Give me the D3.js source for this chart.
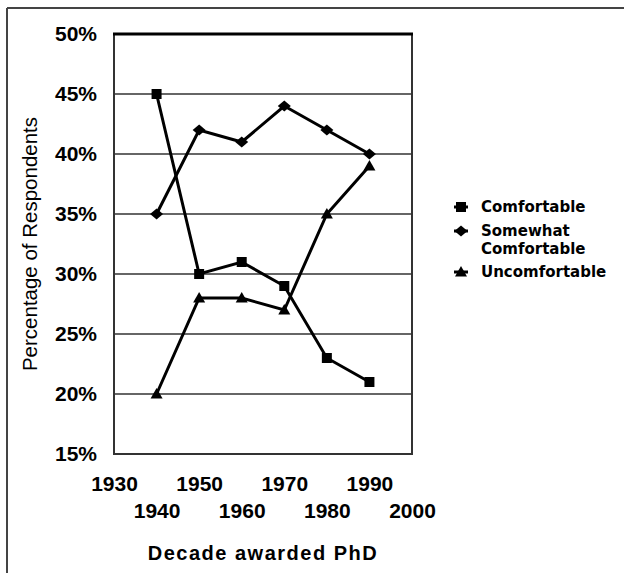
<!DOCTYPE html>
<html><head><meta charset="utf-8">
<script src="https://cdn.jsdelivr.net/npm/d3@7"></script>
<style>body{margin:0;background:#fff}svg{display:block}</style>
</head><body>
<svg id="c" width="624" height="573"></svg>
<script>
const years = [1940, 1950, 1960, 1970, 1980, 1990];
const comfortable = [45, 30, 31, 29, 23, 21];
const somewhat = [35, 42, 41, 44, 42, 40];
const uncomfortable = [20, 28, 28, 27, 35, 39];
const xTicks = [1930, 1940, 1950, 1960, 1970, 1980, 1990, 2000];
const yTicks = [15, 20, 25, 30, 35, 40, 45, 50];
const seriesNames = ["Comfortable", "Somewhat Comfortable", "Uncomfortable"];

const svg = d3.select("#c");
const L = 114, R = 412, T = 34, B = 454;
const x = d3.scaleLinear().domain([1930, 2000]).range([L, R]);
const y = d3.scaleLinear().domain([15, 50]).range([B, T]);
const font = "'Liberation Sans', Arial, sans-serif";

// outer frame
svg.append("line").attr("x1", 7).attr("x2", 7).attr("y1", 8).attr("y2", 573).attr("stroke", "#444").attr("stroke-width", 2);
svg.append("line").attr("x1", 7).attr("x2", 624).attr("y1", 8).attr("y2", 8).attr("stroke", "#444").attr("stroke-width", 2);

// gridlines
svg.append("g").selectAll("line").data(yTicks.filter(d => d > 15 && d < 50)).join("line")
  .attr("x1", L).attr("x2", R).attr("y1", d => y(d)).attr("y2", d => y(d))
  .attr("stroke", "#333").attr("stroke-width", 1.5);
// plot border
svg.append("path").attr("d", `M${L},${T}V${B}H${R}V${T}`).attr("fill", "none").attr("stroke", "#333").attr("stroke-width", 2);
svg.append("line").attr("x1", L - 1).attr("x2", R + 1).attr("y1", y(50)).attr("y2", y(50)).attr("stroke", "#000").attr("stroke-width", 3);

// y axis labels
const yAxis = d3.axisLeft(y).tickValues(yTicks).tickFormat(d => d + "%").tickSize(0).tickPadding(17);
const gy = svg.append("g").attr("transform", `translate(${L},0)`).call(yAxis);
gy.select(".domain").remove();
gy.selectAll("text").attr("font-family", font).attr("font-weight", "bold").attr("font-size", 21).attr("fill", "#000");

// x axis labels (staggered)
const xAxis = d3.axisBottom(x).tickValues(xTicks).tickFormat(d => d).tickSize(0);
const gx = svg.append("g").attr("transform", `translate(0,${B})`).call(xAxis);
gx.select(".domain").remove();
gx.selectAll("text").attr("font-family", font).attr("font-weight", "bold").attr("font-size", 21).attr("fill", "#000")
  .attr("dy", null).attr("y", (d, i) => i % 2 === 0 ? 37 : 64);

// titles
svg.append("text").attr("x", (L + R) / 2).attr("y", 560).attr("text-anchor", "middle")
  .attr("font-family", font).attr("font-weight", "bold").attr("font-size", 20).attr("letter-spacing", 1.5)
  .text("Decade awarded PhD");
svg.append("text").attr("transform", `translate(37,${(T + B) / 2}) rotate(-90)`).attr("text-anchor", "middle")
  .attr("font-family", font).attr("font-size", 20.5)
  .text("Percentage of Respondents");

// series
const data = [comfortable, somewhat, uncomfortable];
const shapes = [
  "M-5,-5H5V5H-5Z",
  "M0,-5.5L6.5,0L0,5.5L-6.5,0Z",
  "M0,-6L6,4.5H-6Z"
];
const line = d3.line().x((d, i) => x(years[i])).y(d => y(d));
data.forEach((s, k) => {
  svg.append("path").datum(s).attr("d", line).attr("fill", "none").attr("stroke", "#000").attr("stroke-width", 3);
  svg.append("g").selectAll("path").data(s).join("path")
    .attr("transform", (d, i) => `translate(${x(years[i])},${y(d)})`)
    .attr("d", shapes[k])
    .attr("fill", "#000");
});

// legend
const lfont = "'DejaVu Sans', Verdana, sans-serif";
const legRows = [[207], [231, 249], [272]];
const leg = svg.append("g");
seriesNames.forEach((name, k) => {
  const rows = legRows[k];
  leg.append("line").attr("x1", 454).attr("x2", 468).attr("y1", rows[0]).attr("y2", rows[0])
    .attr("stroke", "#000").attr("stroke-width", 3);
  leg.append("path").attr("transform", `translate(461,${rows[0]})`)
    .attr("d", shapes[k]).attr("fill", "#000");
  const words = k === 1 ? ["Somewhat", "Comfortable"] : [name];
  words.forEach((w, j) => {
    leg.append("text").attr("x", 481).attr("y", rows[j]).attr("dy", "0.36em")
      .attr("font-family", lfont).attr("font-weight", "bold").attr("font-size", 15).text(w);
  });
});
</script>
</body></html>
